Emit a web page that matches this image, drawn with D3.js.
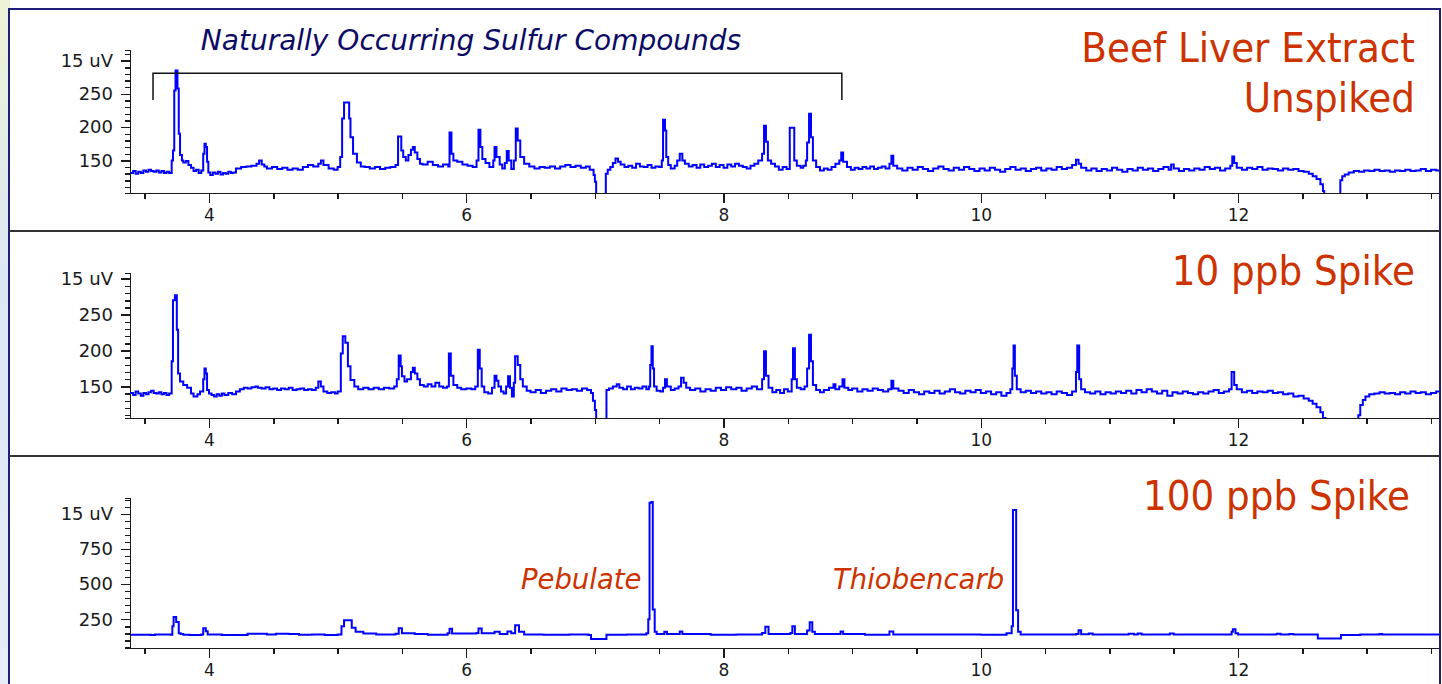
<!DOCTYPE html>
<title>Beef liver extract chromatograms</title>
<meta charset="utf-8">
<style>
body { margin: 0; background: #fff; }
.axis path, .axis line { fill: none; stroke: #1a1a1a; stroke-width: 1.5; shape-rendering: crispEdges; }
.axis text { font-family: "DejaVu Sans", Arial, sans-serif; font-size: 17px; fill: #1a1a1a; }
.yaxis text { font-size: 18px; }
.trace { fill: none; stroke: #0000ff; stroke-width: 2; }
.title { font-family: "DejaVu Sans Condensed", "DejaVu Sans", sans-serif; font-size: 41.5px; fill: #cc3300; }
.compound { font-family: "DejaVu Sans", sans-serif; font-size: 27.5px; font-style: italic; fill: #cc3300; }
</style>
<body>
<script src="https://d3js.org/d3.v7.min.js"></script>
<script>

// ---- data (retention time in minutes, detector response) ----
var xMajorTicks = [4, 6, 8, 10, 12];
var xMinorTicks = [3.5, 4.5, 5, 5.5, 6.5, 7, 7.5, 8.5, 9, 9.5, 10.5, 11, 11.5, 12.5, 13, 13.5];

var yTicksLow = [150, 200, 250, 300];
var yLabelsLow = ["150", "200", "250", "15 uV"];
var yTicksHigh = [250, 500, 750, 1000];
var yLabelsHigh = ["250", "500", "750", "15 uV"];

var panelTitles = [["Beef Liver Extract", "Unspiked"], ["10 ppb Spike"], ["100 ppb Spike"]];
var bracketLabel = "Naturally Occurring Sulfur Compounds";
var bracketSpan = [3.565, 8.92];
var compounds = [{name: "Pebulate", t: 7.44}, {name: "Thiobencarb", t: 10.26}];

var unspiked = [
  [3.39,131],[3.41,134],[3.43,130],[3.45,133],[3.47,131],[3.49,135],[3.51,133],[3.53,136],[3.55,134],[3.57,133],
  [3.59,135],[3.61,132],[3.63,134],[3.65,131],[3.67,133],[3.69,131],[3.71,150],[3.72,165],[3.73,255],[3.74,285],
  [3.755,258],[3.765,190],[3.775,158],[3.79,150],[3.80,147],[3.82,149],[3.84,143],[3.86,139],[3.88,134],[3.90,136],
  [3.92,131],[3.94,135],[3.955,160],[3.965,175],[3.975,170],[3.985,148],[3.995,132],[4.01,128],[4.03,132],[4.05,130],
  [4.07,133],[4.09,129],[4.11,131],[4.13,130],[4.15,133],[4.17,131],[4.19,132],[4.21,138],[4.25,140],[4.29,141],
  [4.33,142],[4.37,145],[4.39,150],[4.41,144],[4.43,141],[4.45,138],[4.49,140],[4.53,137],[4.57,139],[4.61,136],
  [4.65,138],[4.69,136],[4.73,140],[4.77,143],[4.81,141],[4.85,145],[4.87,150],[4.89,143],[4.93,138],[4.97,136],
  [5.00,140],[5.02,155],[5.035,213],[5.05,237],[5.075,237],[5.09,213],[5.10,185],[5.12,160],[5.15,147],[5.18,141],
  [5.21,140],[5.25,138],[5.29,140],[5.33,137],[5.37,139],[5.41,140],[5.45,143],[5.47,186],[5.495,165],[5.51,155],
  [5.53,150],[5.55,158],[5.57,166],[5.585,170],[5.60,162],[5.62,152],[5.64,145],[5.66,144],[5.70,148],[5.74,143],
  [5.78,141],[5.82,144],[5.86,141],[5.87,192],[5.885,160],[5.90,150],[5.93,148],[5.97,144],[6.01,142],[6.05,140],
  [6.08,150],[6.095,196],[6.11,170],[6.125,152],[6.15,146],[6.18,140],[6.21,150],[6.22,170],[6.235,155],[6.26,144],
  [6.28,138],[6.30,146],[6.315,164],[6.33,150],[6.35,137],[6.37,150],[6.385,198],[6.40,180],[6.42,155],[6.45,145],
  [6.49,141],[6.53,138],[6.57,140],[6.61,139],[6.65,141],[6.69,138],[6.73,141],[6.77,143],[6.81,140],[6.85,142],
  [6.89,139],[6.93,141],[6.96,136],[6.99,128],[7.00,118],[7.01,95],[7.02,60],[7.08,60],[7.085,130],[7.10,136],
  [7.12,140],[7.14,146],[7.16,153],[7.18,148],[7.20,144],[7.23,140],[7.26,142],[7.29,139],[7.32,145],[7.35,141],
  [7.38,140],[7.41,143],[7.44,139],[7.47,141],[7.50,140],[7.52,150],[7.53,211],[7.545,195],[7.555,155],[7.57,143],
  [7.59,138],[7.62,142],[7.64,150],[7.66,160],[7.68,150],[7.70,145],[7.73,141],[7.76,143],[7.79,139],[7.82,144],
  [7.85,140],[7.88,142],[7.91,145],[7.94,140],[7.97,143],[8.00,139],[8.03,144],[8.06,141],[8.09,145],[8.12,142],
  [8.15,140],[8.18,138],[8.21,142],[8.24,145],[8.27,150],[8.30,160],[8.315,202],[8.33,178],[8.345,150],[8.37,145],
  [8.40,141],[8.43,136],[8.46,140],[8.49,137],[8.515,199],[8.535,199],[8.55,150],[8.57,142],[8.60,139],[8.62,142],
  [8.64,150],[8.65,177],[8.665,220],[8.68,185],[8.695,150],[8.72,140],[8.75,135],[8.78,138],[8.81,136],[8.84,140],
  [8.87,145],[8.90,150],[8.915,162],[8.93,148],[8.96,140],[8.99,136],[9.02,139],[9.05,137],[9.08,140],[9.11,138],
  [9.14,141],[9.17,137],[9.20,139],[9.23,141],[9.26,138],[9.29,145],[9.305,157],[9.32,142],[9.35,138],[9.39,135],
  [9.43,139],[9.47,136],[9.51,140],[9.55,137],[9.59,134],[9.63,138],[9.67,141],[9.71,137],[9.75,135],[9.79,139],
  [9.83,136],[9.87,140],[9.91,137],[9.95,134],[9.99,138],[10.03,135],[10.07,139],[10.11,136],[10.15,133],[10.19,137],
  [10.23,140],[10.27,136],[10.31,138],[10.35,134],[10.39,137],[10.43,139],[10.47,135],[10.51,138],[10.55,136],[10.59,140],
  [10.63,137],[10.67,139],[10.71,143],[10.74,151],[10.76,145],[10.78,139],[10.82,135],[10.86,138],[10.90,134],[10.94,137],
  [10.98,135],[11.02,139],[11.06,136],[11.10,133],[11.14,137],[11.18,135],[11.22,139],[11.26,136],[11.30,138],[11.34,134],
  [11.38,137],[11.42,140],[11.46,136],[11.48,144],[11.50,138],[11.54,134],[11.58,137],[11.62,135],[11.66,138],[11.70,136],
  [11.74,140],[11.78,137],[11.82,139],[11.86,135],[11.90,138],[11.94,142],[11.955,156],[11.97,146],[11.99,139],[12.03,136],
  [12.07,139],[12.11,137],[12.15,140],[12.19,136],[12.23,138],[12.27,137],[12.31,135],[12.35,138],[12.39,136],[12.43,137],
  [12.47,134],[12.51,133],[12.55,130],[12.58,126],[12.61,122],[12.64,114],[12.66,104],[12.67,60],[12.79,60],[12.795,120],
  [12.81,126],[12.83,129],[12.86,132],[12.90,134],[12.94,133],[12.98,135],[13.02,134],[13.06,136],[13.10,134],[13.14,135],
  [13.18,133],[13.22,135],[13.26,134],[13.30,136],[13.34,134],[13.38,135],[13.42,137],[13.46,134],[13.50,136],[13.54,135],
  [13.57,136]
];

var spike10 = [
  [3.39,141],[3.41,138],[3.43,143],[3.45,140],[3.47,137],[3.49,141],[3.51,139],[3.53,142],[3.55,144],[3.57,141],
  [3.59,140],[3.61,142],[3.63,139],[3.65,141],[3.67,138],[3.69,140],[3.71,185],[3.72,270],[3.735,277],[3.75,229],
  [3.76,168],[3.775,157],[3.80,152],[3.83,148],[3.86,140],[3.88,136],[3.91,139],[3.93,143],[3.955,160],[3.965,175],
  [3.975,168],[3.985,145],[4.00,140],[4.02,138],[4.04,136],[4.06,139],[4.08,137],[4.10,140],[4.12,138],[4.15,141],
  [4.18,139],[4.21,143],[4.24,146],[4.27,148],[4.30,147],[4.33,149],[4.36,150],[4.38,148],[4.41,147],[4.44,149],
  [4.47,146],[4.50,147],[4.53,145],[4.56,147],[4.59,146],[4.62,148],[4.65,145],[4.68,146],[4.71,147],[4.74,145],
  [4.77,146],[4.80,145],[4.83,148],[4.85,157],[4.87,150],[4.89,143],[4.92,141],[4.95,142],[4.98,140],[5.00,143],
  [5.025,196],[5.04,220],[5.06,211],[5.08,178],[5.10,159],[5.13,150],[5.16,146],[5.20,148],[5.24,146],[5.28,148],
  [5.32,146],[5.36,148],[5.40,147],[5.44,150],[5.46,160],[5.475,193],[5.49,178],[5.50,164],[5.52,157],[5.54,160],
  [5.57,170],[5.585,176],[5.60,168],[5.62,160],[5.64,152],[5.67,150],[5.70,153],[5.73,150],[5.76,155],[5.79,150],
  [5.82,148],[5.85,150],[5.865,196],[5.88,165],[5.90,152],[5.93,148],[5.96,146],[6.00,147],[6.04,146],[6.07,150],
  [6.09,201],[6.105,175],[6.12,150],[6.14,142],[6.17,140],[6.20,148],[6.22,165],[6.235,158],[6.25,150],[6.27,143],
  [6.29,140],[6.31,150],[6.325,164],[6.34,148],[6.355,136],[6.37,155],[6.38,192],[6.40,180],[6.42,160],[6.44,150],
  [6.47,144],[6.50,142],[6.54,145],[6.58,141],[6.62,144],[6.66,146],[6.70,143],[6.74,147],[6.78,145],[6.82,146],
  [6.86,144],[6.90,147],[6.94,145],[6.97,141],[6.985,130],[7.00,117],[7.01,95],[7.02,60],[7.08,60],[7.09,145],
  [7.11,147],[7.14,150],[7.17,153],[7.19,148],[7.22,146],[7.25,150],[7.28,146],[7.31,148],[7.34,147],[7.37,150],
  [7.40,146],[7.42,150],[7.43,180],[7.44,206],[7.45,175],[7.46,150],[7.48,144],[7.51,143],[7.53,148],[7.545,160],
  [7.56,150],[7.59,145],[7.62,147],[7.65,150],[7.67,162],[7.69,155],[7.71,148],[7.74,145],[7.78,147],[7.82,143],
  [7.86,146],[7.90,144],[7.94,148],[7.98,145],[8.02,149],[8.06,146],[8.10,148],[8.14,144],[8.18,147],[8.22,150],
  [8.26,146],[8.30,160],[8.315,199],[8.33,165],[8.35,148],[8.38,142],[8.41,145],[8.44,141],[8.47,146],[8.50,143],
  [8.53,160],[8.54,203],[8.555,160],[8.57,148],[8.60,146],[8.63,150],[8.65,175],[8.665,222],[8.68,185],[8.695,152],
  [8.72,145],[8.75,142],[8.78,145],[8.82,148],[8.855,153],[8.87,146],[8.90,150],[8.925,160],[8.94,148],[8.97,145],
  [9.00,147],[9.04,143],[9.08,146],[9.12,144],[9.16,147],[9.20,145],[9.24,143],[9.28,146],[9.305,158],[9.32,147],
  [9.36,144],[9.40,141],[9.44,145],[9.48,142],[9.52,139],[9.56,143],[9.60,141],[9.64,144],[9.68,140],[9.72,143],
  [9.76,146],[9.80,142],[9.84,140],[9.88,144],[9.92,142],[9.96,145],[10.00,141],[10.04,143],[10.08,139],[10.12,142],
  [10.16,137],[10.20,141],[10.23,146],[10.245,175],[10.255,207],[10.265,165],[10.28,146],[10.31,142],[10.35,144],[10.39,141],
  [10.43,143],[10.47,140],[10.51,142],[10.55,139],[10.59,143],[10.63,141],[10.67,138],[10.71,143],[10.74,170],[10.75,207],
  [10.765,160],[10.78,146],[10.81,142],[10.85,140],[10.89,143],[10.93,139],[10.97,142],[11.01,140],[11.05,143],[11.09,141],
  [11.13,144],[11.17,140],[11.21,145],[11.25,142],[11.29,146],[11.33,143],[11.37,140],[11.41,144],[11.45,137],[11.49,142],
  [11.53,140],[11.57,143],[11.61,141],[11.65,139],[11.69,142],[11.73,140],[11.77,143],[11.81,145],[11.85,141],[11.89,143],
  [11.93,146],[11.95,170],[11.97,152],[11.99,146],[12.03,142],[12.07,144],[12.11,141],[12.15,143],[12.19,142],[12.23,144],
  [12.27,141],[12.31,142],[12.35,139],[12.39,140],[12.43,136],[12.47,137],[12.51,133],[12.55,130],[12.58,126],[12.61,121],
  [12.64,114],[12.66,106],[12.68,60],[12.93,60],[12.935,110],[12.95,124],[12.97,131],[12.99,136],[13.02,139],[13.06,140],
  [13.10,142],[13.14,140],[13.18,141],[13.22,139],[13.26,142],[13.30,140],[13.34,143],[13.38,141],[13.42,142],[13.46,139],
  [13.50,141],[13.54,143],[13.57,141]
];

var spike100 = [
  [3.39,140],[3.55,138],[3.58,141],[3.70,140],[3.715,200],[3.725,266],[3.745,230],[3.765,150],[3.78,145],[3.80,140],
  [3.85,138],[3.94,141],[3.955,186],[3.975,165],[3.99,141],[4.10,138],[4.30,146],[4.45,142],[4.52,146],[4.62,145],
  [4.70,140],[4.80,142],[4.90,138],[5.00,141],[5.03,200],[5.05,243],[5.09,243],[5.11,190],[5.14,160],[5.20,148],
  [5.30,142],[5.45,147],[5.475,186],[5.50,150],[5.60,145],[5.70,140],[5.855,150],[5.87,182],[5.89,148],[6.08,152],
  [6.095,184],[6.12,150],[6.22,160],[6.26,145],[6.32,162],[6.35,150],[6.38,207],[6.41,160],[6.45,142],[6.60,140],
  [6.80,142],[6.95,138],[6.97,110],[7.07,110],[7.09,140],[7.25,142],[7.40,150],[7.415,250],[7.425,1080],[7.44,1086],
  [7.45,320],[7.465,160],[7.48,145],[7.54,160],[7.56,145],[7.66,162],[7.68,145],[7.90,140],[8.10,142],[8.30,152],
  [8.325,196],[8.35,145],[8.52,152],[8.535,200],[8.555,145],[8.65,170],[8.67,228],[8.69,160],[8.71,145],[8.91,162],
  [8.93,145],[9.10,140],[9.29,162],[9.32,142],[9.70,141],[10.00,140],[10.20,150],[10.24,200],[10.25,1028],[10.265,1028],
  [10.275,314],[10.29,160],[10.31,141],[10.74,145],[10.76,171],[10.78,143],[10.84,148],[10.87,141],[11.15,146],[11.19,141],
  [11.22,148],[11.25,141],[11.47,148],[11.50,141],[11.95,160],[11.96,178],[11.98,150],[12.00,141],[12.30,147],[12.33,141],
  [12.40,145],[12.43,141],[12.62,112],[12.76,112],[12.80,138],[12.95,141],[13.10,145],[13.12,141],[13.57,141]
];

// ---- layout ----
var W = 1442, H = 684;
var left = 130, right = 1440;
var panels = [
  {data: unspiked, top: 50, bottom: 193, domain: [101, 316], ticks: yTicksLow, labels: yLabelsLow, minorStep: 10, y0: 8, titleRight: 1415},
  {data: spike10, top: 273, bottom: 418, domain: [106, 308], ticks: yTicksLow, labels: yLabelsLow, minorStep: 10, y0: 231, titleRight: 1415},
  {data: spike100, top: 498, bottom: 648, domain: [45, 1114], ticks: yTicksHigh, labels: yLabelsHigh, minorStep: 50, y0: 456, titleRight: 1410}
];

var svg = d3.select("body").append("svg")
    .attr("width", W)
    .attr("height", H);

// faint slide background on the left edge
var grad = svg.append("defs").append("linearGradient")
    .attr("id", "bg").attr("x1", 0).attr("y1", 0).attr("x2", 0).attr("y2", 1);
grad.append("stop").attr("offset", "0%").attr("stop-color", "#eef3d6");
grad.append("stop").attr("offset", "40%").attr("stop-color", "#dbe7f4");
grad.append("stop").attr("offset", "100%").attr("stop-color", "#e6edf7");
svg.append("rect").attr("x", 0).attr("y", 0).attr("width", 10).attr("height", H).attr("fill", "url(#bg)");

var x = d3.scaleLinear().domain([3.386, 13.57]).range([left, right]);

panels.forEach(function(p, i) {
  var y = d3.scaleLinear().domain(p.domain).range([p.bottom, p.top]);
  var g = svg.append("g");

  // clip so the trace is cut at the axes
  svg.select("defs").append("clipPath").attr("id", "clip" + i)
    .append("rect").attr("x", left).attr("y", p.top - 30)
    .attr("width", right - left).attr("height", p.bottom - p.top + 30);

  // minor y ticks
  var minor = d3.range(p.domain[0] - p.domain[0] % p.minorStep + p.minorStep, p.domain[1], p.minorStep);
  g.append("g").attr("class", "axis")
      .attr("transform", "translate(" + left + ",0)")
      .call(d3.axisLeft(y).tickValues(minor).tickSize(5).tickFormat(""))
      .select(".domain").remove();

  // major y ticks
  g.append("g").attr("class", "axis yaxis")
      .attr("transform", "translate(" + left + ",0)")
      .call(d3.axisLeft(y).tickValues(p.ticks).tickSizeOuter(5).tickSizeInner(9).tickPadding(8)
        .tickFormat(function(d, k) { return p.labels[k]; }));

  // x axis
  g.append("g").attr("class", "axis")
      .attr("transform", "translate(0," + p.bottom + ")")
      .call(d3.axisBottom(x).tickValues(xMinorTicks).tickSize(6).tickFormat(""))
      .select(".domain").remove();
  g.append("g").attr("class", "axis")
      .attr("transform", "translate(0," + p.bottom + ")")
      .call(d3.axisBottom(x).tickValues(xMajorTicks).tickSizeInner(10).tickSizeOuter(0).tickPadding(6));

  // trace
  var line = d3.line()
      .x(function(d) { return x(d[0]); })
      .y(function(d) { return y(d[1]); })
      .curve(d3.curveStepAfter);
  g.append("path")
      .attr("class", "trace")
      .attr("clip-path", "url(#clip" + i + ")")
      .attr("d", line(p.data));

  // panel title (right aligned)
  panelTitles[i].forEach(function(t, k) {
    g.append("text").attr("class", "title")
        .attr("x", p.titleRight).attr("y", p.y0 + 54 + k * 50)
        .attr("text-anchor", "end")
        .text(t);
  });

  p.y = y;
});

// bracket over the naturally occurring compounds
var y1 = panels[0].y;
svg.append("path")
    .attr("d", "M" + x(bracketSpan[0]) + "," + y1(241) + "V" + y1(281) + "H" + x(bracketSpan[1]) + "V" + y1(241))
    .attr("fill", "none").attr("stroke", "#111").attr("stroke-width", 1.5);
svg.append("text")
    .attr("x", 471).attr("y", 50)
    .attr("text-anchor", "middle")
    .style("font-family", "\"DejaVu Sans\", sans-serif")
    .style("font-size", "28px").style("font-style", "italic").style("fill", "#0b0b66")
    .text(bracketLabel);

// compound labels in the 100 ppb panel, just left of each peak
var y3 = panels[2].y;
svg.selectAll(".compound").data(compounds).enter().append("text")
    .attr("class", "compound")
    .attr("x", function(d) { return x(d.t) - 10; })
    .attr("y", y3(465))
    .attr("text-anchor", "end")
    .text(function(d) { return d.name; });

// frame and dividers
svg.append("rect").attr("x", 9).attr("y", 9).attr("width", 1431).attr("height", 690)
    .attr("fill", "none").attr("stroke", "#1f1f78").attr("stroke-width", 2);
[231, 456].forEach(function(yy) {
  svg.append("line").attr("x1", 9).attr("x2", 1440).attr("y1", yy).attr("y2", yy)
      .attr("stroke", "#333").attr("stroke-width", 2);
});

</script>
</body>
